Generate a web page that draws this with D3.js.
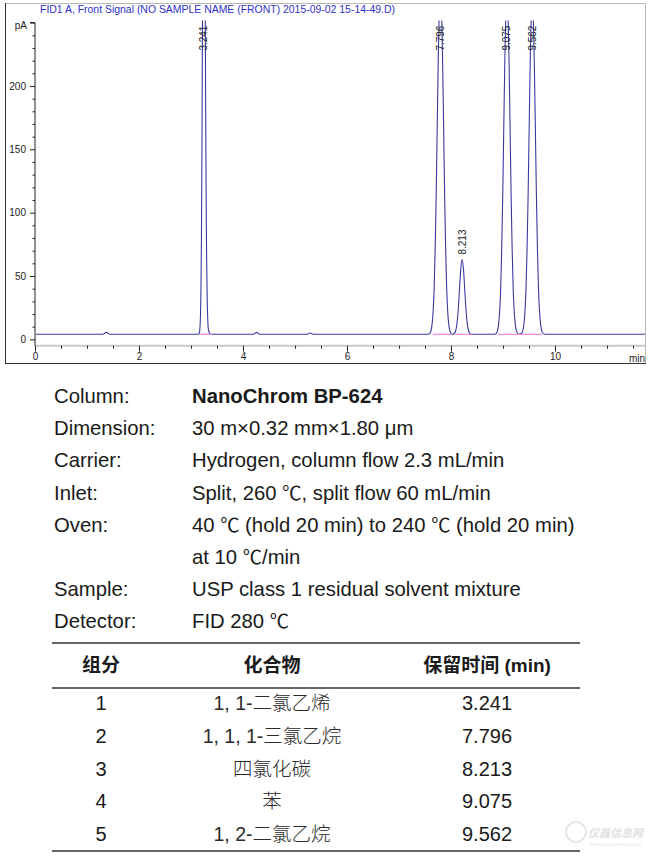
<!DOCTYPE html>
<html><head><meta charset="utf-8">
<script src="https://cdn.jsdelivr.net/npm/d3@7"></script>
<style>
html,body{margin:0;padding:0;background:#fff;}
svg{display:block;}
</style></head>
<body>
<div id="chart"></div>
<script>
// ---------------- DATA ----------------
const chartTitle = "FID1 A, Front Signal (NO SAMPLE NAME (FRONT) 2015-09-02 15-14-49.D)";
const yTicksMajor = [0, 50, 100, 150, 200, 250];
const yTickLabels = ["0", "50", "100", "150", "200", ""];
const xTicksMajor = [0, 2, 4, 6, 8, 10];
const xTickLabels = ["0", "2", "4", "6", "8", "10"];
const xDomain = [0, 11.73];
const yDomain = [-5, 250];

// baseline (min, pA) with small bumps
const baselinePts = [[0,4],[1.30,4],[1.37,5.5],[1.44,4],[2.9,4],[3.10,4],[3.45,4],[4.20,4],[4.26,5.5],[4.32,4],
  [5.22,4],[5.29,5],[5.36,4],[7.50,4],[8.45,4],[8.80,4],[9.85,4],[11.73,4]];
// peak traces (min, pA)
const peak1 = [[3.14,4],[3.151,4.3],[3.161,5.2],[3.171,8.4],[3.181,17.5],[3.191,39],[3.201,82],[3.211,157],[3.221,261],
  [3.231,376],[3.241,480],[3.251,468],[3.261,390],[3.271,290],[3.281,190],[3.291,110],[3.301,62],[3.311,33],[3.321,17],
  [3.331,9],[3.345,6],[3.36,4.6],[3.38,4.2],[3.40,4]];
const peak2 = [[7.556,4],[7.596,5],[7.616,7],[7.636,12],[7.656,22],[7.676,41],[7.696,73],[7.716,117],[7.736,172],
  [7.756,225],[7.776,265],[7.796,280],[7.816,265],[7.836,225],[7.856,172],[7.876,117],[7.896,73],[7.916,41],[7.936,22],
  [7.956,12],[7.976,7],[7.996,5],[8.04,4]];
const peak3 = [[8.03,4],[8.063,4.7],[8.088,6.6],[8.113,12],[8.138,23.2],[8.163,39.8],[8.188,56],[8.213,63],[8.238,56],
  [8.263,39.8],[8.288,23.2],[8.313,12],[8.338,6.6],[8.363,4.7],[8.40,4]];
const peak4 = [[8.835,4],[8.875,5],[8.895,7],[8.915,12],[8.935,22],[8.955,40],[8.975,72],[8.995,115],[9.015,169],
  [9.035,221],[9.055,260],[9.075,275],[9.095,260],[9.115,221],[9.135,169],[9.155,115],[9.175,72],[9.195,40],[9.215,22],
  [9.235,12],[9.255,7],[9.275,5],[9.30,4]];
const peak5 = [[9.30,4],[9.362,5],[9.382,7],[9.402,12],[9.422,22],[9.442,40],[9.462,71],[9.482,113],[9.502,166],
  [9.522,217],[9.542,255],[9.562,270],[9.582,255],[9.602,217],[9.622,166],[9.642,113],[9.662,71],[9.682,40],[9.702,22],
  [9.722,12],[9.742,7],[9.762,5],[9.80,4]];
const peakTimes = [3.241, 7.796, 8.213, 9.075, 9.562];
const peakApex = [480, 280, 63, 275, 270];
const peakLabels = ["3.241", "7.796", "8.213", "9.075", "9.562"];
// integration baselines (start, end) in min, at pA level
const intStarts = [3.17, 7.65, 8.08, 8.90, 9.26];
const intEnds   = [3.40, 8.01, 8.40, 9.26, 9.74];
const intLevel = 4;

const specLabels = ["Column:", "Dimension:", "Carrier:", "Inlet:", "Oven:", "", "Sample:", "Detector:"];
const specValues = ["NanoChrom BP-624", "30 m\u00d70.32 mm\u00d71.80 \u03bcm", "Hydrogen, column flow 2.3 mL/min",
  "Split, 260 \u2103, split flow 60 mL/min", "40 \u2103 (hold 20 min) to 240 \u2103 (hold 20 min)", "at 10 \u2103/min",
  "USP class 1 residual solvent mixture", "FID 280 \u2103"];
const tableHeaders = ["组分", "化合物", "保留时间 (min)"];
const tableIds = ["1", "2", "3", "4", "5"];
const tableCompounds = ["1, 1-二氯乙烯", "1, 1, 1-三氯乙烷", "四氯化碳", "苯", "1, 2-二氯乙烷"];
const tableTimes = ["3.241", "7.796", "8.213", "9.075", "9.562"];

// ---------------- DRAW ----------------
const W = 651, H = 861;
const LAT = "'Liberation Sans', Arial, sans-serif";
const CJK = "'Noto Sans CJK SC', sans-serif";
const svg = d3.select("#chart").append("svg").attr("width", W).attr("height", H)
  .style("font-family", LAT);
svg.append("rect").attr("width", W).attr("height", H).attr("fill", "#fff");

const plot = {left: 35, right: 645, top: 22.6, bottom: 345.7};
const x = d3.scaleLinear().domain(xDomain).range([plot.left, plot.right]);
const y = d3.scaleLinear().domain(yDomain).range([plot.bottom, plot.top]);

// frame
svg.append("line").attr("x1", 5).attr("x2", 645).attr("y1", 3.5).attr("y2", 3.5).attr("stroke", "#b8b8b8");
svg.append("line").attr("x1", 645.5).attr("x2", 645.5).attr("y1", 3).attr("y2", 363).attr("stroke", "#b8b8b8");
svg.append("line").attr("x1", 5.5).attr("x2", 5.5).attr("y1", 3).attr("y2", 363.5).attr("stroke", "#333");
svg.append("line").attr("x1", 5).attr("x2", 646).attr("y1", 363.5).attr("y2", 363.5).attr("stroke", "#333");

svg.append("text").attr("x", 40).attr("y", 12.5).attr("fill", "#3030c8").attr("font-size", 11)
  .attr("textLength", 355).attr("lengthAdjust", "spacingAndGlyphs").text(chartTitle);

// x axis
const xMinor = d3.range(0, 11.51, 0.5).filter(v => !xTicksMajor.includes(v));
const gx = svg.append("g").attr("transform", `translate(0,${y(-5)})`);
gx.append("line").attr("x1", plot.left).attr("x2", plot.right).attr("y1", 0).attr("y2", 0)
  .attr("stroke", "#c8c8c8").attr("stroke-width", 2);
gx.call(d3.axisBottom(x).tickValues(xMinor).tickSize(3).tickFormat(""))
  .call(g => g.select(".domain").remove());
const gx2 = svg.append("g").attr("transform", `translate(0,${y(-5)})`);
gx2.call(d3.axisBottom(x).tickValues(xTicksMajor).tickSize(6).tickPadding(1)
  .tickFormat((d, i) => xTickLabels[i]))
  .call(g => g.select(".domain").remove());
svg.selectAll("g .tick line").attr("stroke", "#222");
gx2.selectAll("text").attr("font-size", 10).attr("fill", "#222").attr("font-family", LAT);
svg.append("text").attr("x", 645).attr("y", y(-5) + 16).attr("text-anchor", "end").attr("font-size", 10)
  .attr("fill", "#222").text("min");

// y axis
const yMinor = d3.range(0, 250, 10).filter(v => !yTicksMajor.includes(v));
const gy = svg.append("g").attr("transform", `translate(${plot.left},0)`);
gy.call(d3.axisLeft(y).tickValues(yMinor).tickSize(2.5).tickFormat(""))
  .call(g => g.select(".domain").remove());
const gy2 = svg.append("g").attr("transform", `translate(${plot.left},0)`);
gy2.call(d3.axisLeft(y).tickValues(yTicksMajor).tickSize(5).tickPadding(4)
  .tickFormat((d, i) => yTickLabels[i]));
gy2.select(".domain").attr("d", `M-5,${plot.top}H0V${plot.bottom}`).attr("stroke", "#222");
svg.selectAll("g .tick line").attr("stroke", "#222");
gy2.selectAll("text").attr("font-size", 10).attr("fill", "#222").attr("font-family", LAT);
svg.append("text").attr("x", 27).attr("y", 29).attr("text-anchor", "end").attr("font-size", 10)
  .attr("fill", "#222").text("pA");

// signal
svg.append("clipPath").attr("id", "clip").append("rect")
  .attr("x", plot.left + 1).attr("y", plot.top - 2).attr("width", plot.right - plot.left - 1)
  .attr("height", plot.bottom - plot.top + 2);
const peakRanges = [peak1, peak2, peak3, peak4, peak5].map(p => [p[0][0], p[p.length - 1][0]]);
const basePts = baselinePts.filter(d => !peakRanges.some(r => d[0] > r[0] && d[0] < r[1]));
const trace = basePts.concat(peak1, peak2, peak3, peak4, peak5).sort((a, b) => a[0] - b[0]);
const line = d3.line().x(d => x(d[0])).y(d => y(d[1])).curve(d3.curveMonotoneX);
const gs = svg.append("g").attr("clip-path", "url(#clip)");
gs.append("path").attr("d", line(trace)).attr("fill", "none").attr("stroke", "#3a3a9e").attr("stroke-width", 1.1);
gs.selectAll("line.int").data(intStarts).join("line").attr("class", "int")
  .attr("x1", (d) => x(d)).attr("x2", (d, i) => x(intEnds[i]))
  .attr("y1", y(intLevel)).attr("y2", y(intLevel)).attr("stroke", "#ee88dd").attr("stroke-width", 1.2);

// peak labels
svg.selectAll("text.pk").data(peakTimes).join("text").attr("class", "pk")
  .attr("transform", (d, i) => `translate(${x(d)},${Math.max(y(peakApex[i]) - 5, plot.top + 28)}) rotate(-90)`)
  .attr("dy", "0.35em").attr("font-size", 10).attr("fill", "#222")
  .text((d, i) => peakLabels[i]);

// spec block
const specY0 = 403, specDy = 32.2, specFs = 20.3;
svg.selectAll("text.sl").data(specLabels).join("text").attr("class", "sl")
  .attr("x", 54).attr("y", (d, i) => specY0 + i * specDy).attr("font-size", specFs).attr("fill", "#1a1a1a").text(d => d);
const sv = svg.selectAll("text.sv").data(specValues).join("text").attr("class", "sv")
  .attr("x", 192).attr("y", (d, i) => specY0 + i * specDy).attr("font-size", specFs).attr("fill", "#1a1a1a")
  .attr("font-weight", (d, i) => i === 0 ? "bold" : "normal");
sv.each(function(d) {
  const t = d3.select(this);
  const parts = d.split("\u2103");
  parts.forEach((p, k) => {
    if (p.length) t.append("tspan").text(p);
    if (k < parts.length - 1) t.append("tspan").style("font-family", CJK).attr("font-size", specFs * 0.95).text("\u2103");
  });
});

// table
const colX = [101, 272, 487];
const tl = {x1: 52, x2: 580};
[643, 688, 851].forEach(yy => svg.append("line").attr("x1", tl.x1).attr("x2", tl.x2)
  .attr("y1", yy).attr("y2", yy).attr("stroke", "#666").attr("stroke-width", 2));
svg.selectAll("text.th").data(tableHeaders).join("text").attr("class", "th")
  .attr("x", (d, i) => colX[i]).attr("y", 672).attr("text-anchor", "middle").attr("font-size", 19)
  .attr("font-weight", "bold").attr("fill", "#1a1a1a")
  .style("font-family", "'Liberation Sans', 'Noto Sans CJK SC', sans-serif").text(d => d);
const rowY0 = 710, rowDy = 32.8;
svg.selectAll("text.tid").data(tableIds).join("text").attr("class", "tid")
  .attr("x", colX[0]).attr("y", (d, i) => rowY0 + i * rowDy).attr("text-anchor", "middle")
  .attr("font-size", 20).attr("fill", "#1a1a1a").text(d => d);
svg.selectAll("text.tc").data(tableCompounds).join("text").attr("class", "tc")
  .attr("x", colX[1]).attr("y", (d, i) => rowY0 + i * rowDy).attr("text-anchor", "middle")
  .attr("font-size", 19.5).attr("fill", "#2a2a2a").attr("font-weight", 300)
  .style("font-family", "'Liberation Sans', 'Noto Sans CJK SC', sans-serif").text(d => d);
svg.selectAll("text.tt").data(tableTimes).join("text").attr("class", "tt")
  .attr("x", colX[2]).attr("y", (d, i) => rowY0 + i * rowDy).attr("text-anchor", "middle")
  .attr("font-size", 20).attr("fill", "#1a1a1a").text(d => d);

// watermark
svg.append("circle").attr("cx", 576).attr("cy", 832).attr("r", 10).attr("fill", "none")
  .attr("stroke", "#e6e6e6").attr("stroke-width", 2);
svg.append("text").attr("x", 588).attr("y", 837).attr("font-size", 11).attr("font-weight", "bold")
  .attr("font-style", "italic").attr("fill", "#e2e2e2")
  .style("font-family", CJK).text("仪器信息网");
svg.append("text").attr("x", 589).attr("y", 846).attr("font-size", 6).attr("fill", "#e6e6e6")
  .attr("textLength", 52).attr("lengthAdjust", "spacingAndGlyphs").text("www.instrument.com.cn");
</script>
</body></html>
